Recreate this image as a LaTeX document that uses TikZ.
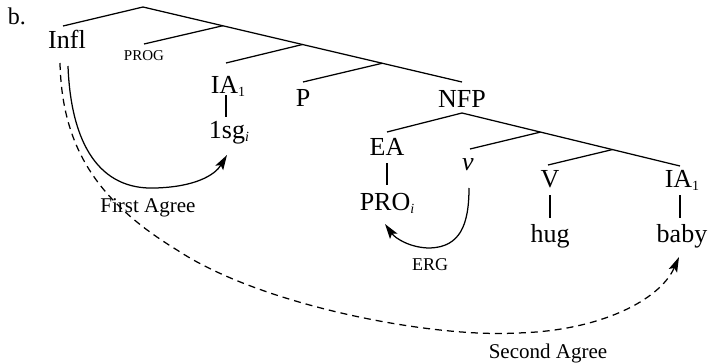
\documentclass[tikz,border=0pt]{standalone}
\usepackage{fontspec}
\setmainfont{Liberation Serif}
\usetikzlibrary{arrows.meta,calc}
\newcommand\sbs[1]{\raisebox{-3pt}{\fontsize{14}{14}\selectfont #1}}
\begin{document}
\begin{tikzpicture}[x=1pt,y=-1pt,
  lab/.style={inner sep=0pt, outer sep=0pt, anchor=base, font=\fontsize{26}{30}\selectfont, text height=17pt, text depth=0pt},
  small/.style={inner sep=0pt, outer sep=0pt, anchor=base},
  br/.style={line width=1.25pt},
  agr/.style={line width=1.25pt, -{Stealth[length=15pt,width=9pt,inset=3pt]}},
  dsh/.style={dash pattern=on 7pt off 5pt}
  ]
\useasboundingbox (0,0) rectangle (710,364);

\node[small, font=\fontsize{24}{28}\selectfont] (b) at (17,24) {b.};
\node[lab] (Infl) at (67,48) {Infl};
\node[small, font=\fontsize{15}{18}\selectfont, text height=10pt] (PROG) at (144,60) {PROG};
\node[lab] (IAl) at (228,93) {IA\sbs{1}};
\node[lab] (sg) at (229,138) {1sg\sbs{\itshape i}};
\node[lab] (P) at (303,106) {P};
\node[lab] (NFP) at (462,107) {NFP};
\node[lab] (EA) at (387,155) {EA};
\node[lab] (v) at (468,170) {\itshape v};
\node[lab] (V) at (550,187) {V};
\node[lab] (IAr) at (682,187) {IA\sbs{1}};
\node[lab] (PRO) at (387,210) {PRO\sbs{\itshape i}};
\node[lab] (hug) at (550,242) {hug};
\node[lab] (baby) at (682,242) {baby};
\node[small, font=\fontsize{18}{22}\selectfont] (ERG) at (430,270) {ERG};
\node[small, font=\fontsize{21}{25}\selectfont] (FA) at (148,212) {First Agree};
\node[small, font=\fontsize{21}{25}\selectfont] (SA) at (548,358) {Second Agree};

\coordinate (R) at (143,7);
\coordinate (Ntop) at ([yshift=8pt]NFP.north);
\coordinate (A) at ($(R)!0.25!(Ntop)$);
\coordinate (B) at ($(R)!0.5!(Ntop)$);
\coordinate (C) at ($(R)!0.75!(Ntop)$);
\coordinate (N2) at ([yshift=-6pt]NFP.south);
\coordinate (IArT) at ([xshift=-2pt,yshift=4pt]IAr.north);
\coordinate (D) at ($(N2)!0.36!(IArT)$);
\coordinate (E) at ($(N2)!0.69!(IArT)$);

\draw[br] ([xshift=-4pt,yshift=5pt]Infl.north) -- (R) -- (Ntop);
\draw[br] (A) -- ([yshift=6pt]PROG.north);
\draw[br] (B) -- ([xshift=-2pt,yshift=13pt]IAl.north);
\draw[br] (C) -- ([yshift=7pt]P.north);
\draw[br] ([yshift=6pt]EA.north) -- (N2) -- (IArT);
\draw[br] (D) -- ([xshift=2pt,yshift=4pt]v.north);
\draw[br] (E) -- ([xshift=-2pt,yshift=5pt]V.north);

\draw[br, shorten <=2pt, shorten >=4pt] ([xshift=-2pt]IAl.south) -- ([xshift=-2pt]IAl.south |- sg.north);
\draw[br, shorten <=8pt, shorten >=8pt] (EA.south) -- (EA.south |- PRO.north);
\draw[br, shorten <=8pt, shorten >=7pt] (V.south) -- (hug.north);
\draw[br, shorten <=8pt, shorten >=7pt] ([xshift=-2pt]IAr.south) -- ([xshift=-2pt]IAr.south |- baby.north);

\draw[agr] ([xshift=1pt,yshift=-18pt]Infl.south) .. controls (71,145) and (100,190) .. (155,188) .. controls (195,187) and (215,175) .. ([xshift=-2pt,yshift=-17pt]sg.south);
\draw[agr, dsh] ([xshift=-7pt,yshift=-15pt]Infl.south) .. controls (62,145) and (95,200) .. (177,250) .. controls (260,305) and (430,338) .. (517,333) .. controls (600,331) and (660,300) .. ([xshift=-3pt,yshift=-15pt]baby.south);
\draw[agr] ([xshift=1pt,yshift=-18pt]v.south) .. controls (469,225) and (460,247) .. (430,248) .. controls (410,248) and (395,238) .. ([xshift=-2pt,yshift=-14pt]PRO.south);
\end{tikzpicture}
\end{document}
